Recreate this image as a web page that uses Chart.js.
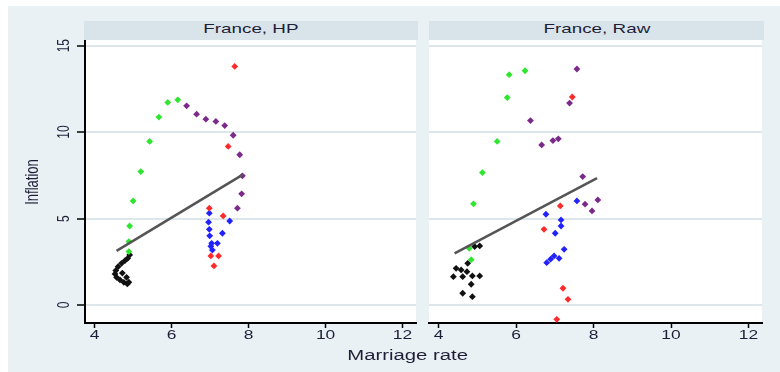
<!DOCTYPE html>
<html>
<head>
<meta charset="utf-8">
<script src="https://cdn.jsdelivr.net/npm/chart.js@4.4.1/dist/chart.umd.min.js"></script>
<style>
  body { margin: 0; width: 780px; height: 372px; background: #fff; position: relative; overflow: hidden; }
  #frame { position: absolute; left: 8px; top: 6px; width: 772px; height: 366px; background: #eaf1f4; }
  .head { position: absolute; top: 21px; height: 19px; line-height: 19px; background: #d9e4ea;
          font: 13px "Liberation Sans", Arial, sans-serif; color: #1e1e38; text-align: center; }
  .head span, #xtitle span { display: inline-block; transform: scaleX(1.45); }
  canvas { position: absolute; top: 0; }
  #xtitle { position: absolute; left: 0; width: 816px; top: 347px; text-align: center;
            font: 14px "Liberation Sans", Arial, sans-serif; color: #1e1e38; }
</style>
</head>
<body>
<div id="frame"></div>
<div class="head" style="left:84px;width:334px"><span>France, HP</span></div>
<div class="head" style="left:429px;width:335px"><span>France, Raw</span></div>
<canvas id="hpChart" style="left:0" width="420" height="372"></canvas>
<canvas id="rawChart" style="left:420px" width="360" height="372"></canvas>
<div id="xtitle"><span>Marriage rate</span></div>

<script>

// ================= DATA =================

const xTicks = [4, 6, 8, 10, 12];
const yTicks = [0, 5, 10, 15];
const yTitle = "Inflation";

// France, HP  [marriage rate, inflation]
const hpGreen = [[4.89, 3.09], [4.89, 3.67], [4.91, 4.57], [5.00, 6.02], [5.20, 7.72], [5.43, 9.46], [5.67, 10.87], [5.90, 11.72], [6.16, 11.87]];
const hpPurple = [[6.39, 11.52], [6.65, 11.04], [6.89, 10.75], [7.15, 10.62], [7.38, 10.38], [7.60, 9.82], [7.77, 8.69], [7.84, 7.47], [7.82, 6.43], [7.71, 5.60]];
const hpRed = [[7.64, 13.80], [7.47, 9.17], [6.98, 5.60], [7.34, 5.15], [7.02, 2.84], [7.22, 2.84], [7.10, 2.26]];
const hpBlue = [[6.98, 5.31], [6.96, 4.79], [6.98, 4.38], [6.99, 4.00], [7.32, 4.15], [7.51, 4.86], [7.04, 3.57], [7.19, 3.57], [7.06, 3.18], [7.02, 3.40]];
const hpBlack = [[4.91, 2.90], [4.86, 2.70], [4.79, 2.57], [4.70, 2.41], [4.61, 2.22], [4.55, 1.99], [4.53, 1.80], [4.57, 1.60], [4.66, 1.45], [4.76, 1.31], [4.85, 1.22], [4.89, 1.32], [4.83, 1.60], [4.72, 1.85]];
const hpFit = [[4.57, 3.13], [7.84, 7.53]];

// France, Raw
const rawGreen = [[5.82, 13.32], [6.23, 13.55], [5.77, 12.00], [5.51, 9.46], [5.13, 7.66], [4.90, 5.85], [4.79, 3.28], [4.84, 2.62]];
const rawPurple = [[7.57, 13.65], [7.38, 11.68], [6.37, 10.67], [6.66, 9.26], [6.95, 9.51], [7.09, 9.61], [7.72, 7.43], [8.11, 6.08], [7.78, 5.83], [7.96, 5.44]];
const rawRed = [[7.45, 12.03], [7.14, 5.73], [6.72, 4.38], [7.21, 0.97], [7.34, 0.33], [7.05, -0.83]];
const rawBlue = [[7.57, 6.02], [6.77, 5.25], [7.16, 4.92], [7.16, 4.57], [7.01, 4.15], [7.24, 3.22], [6.79, 2.45], [6.89, 2.65], [6.98, 2.84], [7.11, 2.70]];
const rawBlack = [[4.93, 3.38], [5.06, 3.42], [4.75, 2.41], [4.45, 2.12], [4.58, 2.03], [4.73, 1.93], [4.38, 1.64], [4.62, 1.64], [4.87, 1.68], [5.06, 1.68], [4.84, 1.20], [4.62, 0.68], [4.87, 0.48]];
const rawFit = [[4.41, 2.99], [8.09, 7.34]];


// ================= HELPERS =================

Chart.defaults.font.family = '"Liberation Sans", Arial, sans-serif';
Chart.defaults.animation = false;

const textColor = "#1e1e38";
const stretch = 1.45;   // the reference is widened sideways, text too

function toPoints(pairs) {
    return pairs.map(p => ({ x: p[0], y: p[1] }));
}

function dots(pairs, color) {
    return {
        type: "scatter",
        data: toPoints(pairs),
        pointStyle: "rectRot",
        pointRadius: 3.4,
        pointBorderWidth: 0,
        backgroundColor: color,
        borderColor: color
    };
}

function fitLine(pairs) {
    return {
        type: "line",
        data: toPoints(pairs),
        borderColor: "#555555",
        borderWidth: 2.5,
        pointRadius: 0,
        fill: false
    };
}

// white plot region
const plotBg = {
    id: "plotBg",
    beforeDraw(chart) {
        const { ctx, chartArea: a } = chart;
        ctx.save();
        ctx.fillStyle = "#ffffff";
        ctx.fillRect(a.left, a.top - 1, a.right - a.left, a.bottom - a.top + 1);
        ctx.restore();
    }
};

function stretchedText(ctx, text, x, y, size, rotate) {
    ctx.save();
    ctx.font = size + 'px "Liberation Sans", Arial, sans-serif';
    ctx.fillStyle = textColor;
    ctx.textAlign = "center";
    ctx.textBaseline = "middle";
    ctx.translate(x, y);
    ctx.scale(stretch, 1);
    if (rotate) ctx.rotate(-Math.PI / 2);
    ctx.fillText(text, 0, 0);
    ctx.restore();
}

// x tick labels on every panel
const xTickText = {
    id: "xTickText",
    afterDraw(chart) {
        const x = chart.scales.x;
        xTicks.forEach(v => {
            stretchedText(chart.ctx, String(v), x.getPixelForValue(v), 336, 12, false);
        });
    }
};

// rotated y tick labels and y title, left panel only
const yAxisText = {
    id: "yAxisText",
    afterDraw(chart) {
        const y = chart.scales.y;
        yTicks.forEach(v => {
            stretchedText(chart.ctx, String(v), 64, y.getPixelForValue(v), 12, true);
        });
        const a = chart.chartArea;
        stretchedText(chart.ctx, yTitle, 33, (a.top + a.bottom) / 2, 13, true);
    }
};

function makePanel(canvasId, fit, groups, isLeft) {

    return new Chart(document.getElementById(canvasId), {

        data: {
            datasets: [
                fitLine(fit),
                dots(groups[0], "#ff2a2a"),
                dots(groups[1], "#2222ff"),
                dots(groups[2], "#7b2a8c"),
                dots(groups[3], "#2ee62e"),
                dots(groups[4], "#111111")
            ]
        },

        options: {
            responsive: false,
            layout: {
                padding: isLeft
                    ? { left: 0, right: 3, top: 41, bottom: 0 }
                    : { left: 9, right: 18, top: 41, bottom: 0 }
            },
            plugins: {
                legend: { display: false },
                tooltip: { enabled: false }
            },
            scales: {
                x: {
                    type: "linear",
                    min: 3.75,
                    max: 12.35,
                    afterBuildTicks: s => { s.ticks = xTicks.map(v => ({ value: v })); },
                    afterFit: s => { s.height = 49; },
                    border: { display: true, color: "#000000", width: 2 },
                    grid: {
                        drawOnChartArea: false,
                        drawTicks: true,
                        tickLength: 5,
                        tickColor: "#000000",
                        tickWidth: 1.5
                    },
                    ticks: { display: false }
                },
                y: {
                    type: "linear",
                    min: -1.04,
                    max: 15.27,
                    afterBuildTicks: s => { s.ticks = yTicks.map(v => ({ value: v })); },
                    afterFit: s => { s.width = isLeft ? 85 : 0; },
                    border: { display: isLeft, color: "#000000", width: 2 },
                    grid: {
                        color: "#dde7eb",
                        lineWidth: 2,
                        drawTicks: isLeft,
                        tickLength: 8,
                        tickColor: "#000000",
                        tickWidth: 1.5
                    },
                    ticks: { display: false }
                }
            }
        },

        plugins: isLeft ? [plotBg, xTickText, yAxisText] : [plotBg, xTickText]

    });

}


// ================= CHARTS =================

makePanel("hpChart", hpFit, [hpRed, hpBlue, hpPurple, hpGreen, hpBlack], true);

makePanel("rawChart", rawFit, [rawRed, rawBlue, rawPurple, rawGreen, rawBlack], false);

</script>
</body>
</html>
